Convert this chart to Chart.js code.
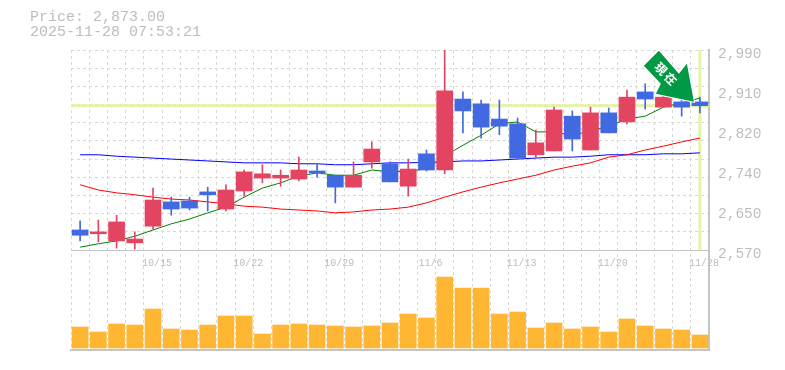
<!DOCTYPE html>
<html>
<head>
<meta charset="utf-8">
<script src="https://cdn.jsdelivr.net/npm/chart.js@4"></script>
<style>
  body { margin: 0; background: #fff; }
  .header { position: absolute; left: 30px; top: 10px; font: 15px/15px "Liberation Mono", monospace; color: #bdbdbd; white-space: pre; }
  #stockChart { position: absolute; left: 0; top: 0; }
</style>
</head>
<body>
<canvas id="stockChart" width="785" height="370"></canvas>
<div class="header">Price: 2,873.00
2025-11-28 07:53:21</div>

<script>
const dates = ["10/8","10/9","10/10","10/14","10/15","10/16","10/17","10/20","10/21","10/22","10/23","10/24","10/27","10/28","10/29","10/30","10/31","11/4","11/5","11/6","11/7","11/10","11/11","11/12","11/13","11/14","11/17","11/18","11/19","11/20","11/21","11/25","11/26","11/27","11/28"];
const tickDates = ["10/15","10/22","10/29","11/6","11/13","11/20","11/28"];

const opens  = [2612,2604,2589,2585,2620,2671,2673,2692,2656,2694,2721,2721,2719,2736,2727,2702,2755,2751,2704,2772,2738,2887,2877,2845,2835,2770,2778,2851,2780,2858,2839,2902,2870,2881,2881];
const highs  = [2631,2633,2643,2608,2700,2681,2681,2702,2707,2738,2749,2738,2765,2751,2727,2755,2797,2755,2761,2780,2990,2902,2885,2885,2847,2822,2870,2862,2870,2868,2906,2919,2906,2889,2891];
const lows   = [2589,2587,2574,2572,2614,2643,2654,2652,2652,2683,2711,2704,2715,2723,2669,2702,2742,2713,2683,2736,2730,2816,2805,2812,2761,2763,2778,2778,2780,2816,2835,2866,2870,2851,2858];
const closes = [2601,2608,2629,2593,2675,2656,2658,2686,2696,2734,2730,2727,2738,2732,2702,2727,2782,2713,2740,2738,2904,2862,2828,2830,2763,2795,2864,2803,2858,2816,2891,2887,2891,2870,2873];

const maShort = [2576,2583,2589,2599,2612,2625,2635,2648,2660,2681,2700,2711,2725,2732,2727,2727,2738,2734,2736,2740,2767,2790,2811,2835,2839,2818,2818,2811,2820,2830,2845,2851,2870,2879,2889];
const maMid   = [2707,2696,2690,2686,2681,2677,2675,2671,2667,2662,2660,2656,2654,2652,2648,2650,2654,2656,2660,2669,2681,2692,2702,2711,2719,2727,2738,2746,2753,2765,2770,2780,2788,2797,2805];
const maLong  = [2770,2770,2767,2765,2763,2761,2759,2757,2755,2753,2753,2753,2751,2751,2749,2749,2751,2753,2753,2754,2755,2757,2757,2759,2761,2763,2765,2765,2767,2770,2770,2770,2772,2772,2774];

const volumes = [21,16,24,23,39,19,18,23,32,32,14,23,24,23,22,21,22,25,34,30,71,60,60,34,36,20,25,19,21,16,29,22,19,18,13];

const priceLabels = [2990,2906,2822,2738,2654,2570];
const gridPrices = [2990,2951.82,2913.64,2875.45,2837.27,2799.09,2760.91,2722.73,2684.55,2646.36,2608.18,2570];
const lastPrice = 2873;

const RED = "#e24461";
const BLUE = "#4169e1";
const GRID = "#d8d8d8";
const AXIS = "#c4c4c4";
const HIGHLIGHT = "#e4f4a4";
const isUp = i => closes[i] >= opens[i];
const candleColor = ctx => isUp(ctx.dataIndex) ? RED : BLUE;

// current price cross, under everything else
const crossPlugin = {
  id: "cross",
  beforeDatasetsDraw(chart) {
    const { ctx, chartArea, scales } = chart;
    const y = scales.yPrice.getPixelForValue(lastPrice);
    const x = scales.x.getPixelForValue(dates.length - 1);
    ctx.save();
    ctx.strokeStyle = HIGHLIGHT;
    ctx.lineWidth = 3;
    ctx.beginPath();
    ctx.moveTo(chartArea.left, y);
    ctx.lineTo(chartArea.right, y);
    ctx.moveTo(x, chartArea.top);
    ctx.lineTo(x, scales.yPrice.bottom);
    ctx.stroke();
    ctx.restore();
  }
};

// green "now" arrow pointing at the last candle
const arrowPlugin = {
  id: "arrow",
  afterDatasetsDraw(chart) {
    const { ctx, scales } = chart;
    const tipX = scales.x.getPixelForValue(dates.length - 1) - 6;
    const tipY = scales.yPrice.getPixelForValue(lastPrice) - 4;
    const shape = [[0,0],[-38,-8],[-33,-18],[-50,-36],[-35,-51],[-15,-28],[-7,-38]];
    ctx.save();
    ctx.translate(tipX, tipY);
    ctx.beginPath();
    shape.forEach((p, i) => i ? ctx.lineTo(p[0], p[1]) : ctx.moveTo(p[0], p[1]));
    ctx.closePath();
    ctx.strokeStyle = "#fff";
    ctx.lineWidth = 2;
    ctx.stroke();
    ctx.fillStyle = "#009944";
    ctx.fill();
    ctx.translate(-28, -28);
    ctx.rotate(Math.PI / 4);
    ctx.fillStyle = "#fff";
    ctx.font = "bold 12px 'Noto Sans CJK JP'";
    ctx.textAlign = "center";
    ctx.textBaseline = "middle";
    ctx.fillText("現", -7, 0);
    ctx.fillText("在", 7, 0);
    ctx.restore();
  }
};

const fixWidth = scale => { scale.width = 76; };

new Chart(document.getElementById("stockChart"), {
  type: "bar",
  data: {
    labels: dates,
    datasets: [
      { type: "bar", data: dates.map((d, i) => [opens[i], closes[i]]), yAxisID: "yPrice", grouped: false, barThickness: 16, backgroundColor: candleColor, order: 1 },
      { type: "bar", data: dates.map((d, i) => [lows[i], highs[i]]), yAxisID: "yPrice", grouped: false, barThickness: 1, backgroundColor: candleColor, order: 2 },
      { type: "line", data: maShort, yAxisID: "yPrice", borderColor: "#008000", borderWidth: 1, pointRadius: 0, tension: 0, order: 3 },
      { type: "line", data: maMid, yAxisID: "yPrice", borderColor: "#ff0000", borderWidth: 1, pointRadius: 0, tension: 0, order: 4 },
      { type: "line", data: maLong, yAxisID: "yPrice", borderColor: "#0000ff", borderWidth: 1, pointRadius: 0, tension: 0, order: 5 },
      { type: "bar", data: volumes, yAxisID: "yVol", grouped: false, barThickness: 16, backgroundColor: "#ffb733", order: 6 }
    ]
  },
  options: {
    responsive: false,
    animation: false,
    layout: { padding: { left: 71, top: 50, right: 0, bottom: 20 } },
    plugins: { legend: { display: false }, title: { display: false }, tooltip: { enabled: false } },
    scales: {
      x: {
        position: { yPrice: 2570 },
        offset: true,
        grid: { offset: true, color: GRID, drawTicks: false },
        border: { dash: [3, 3], color: AXIS, width: 1 },
        ticks: {
          autoSkip: false,
          maxRotation: 0,
          padding: 7,
          labelOffset: 4,
          color: "#bdbdbd",
          font: { family: "Liberation Mono", size: 10 },
          callback(value) {
            const label = this.getLabelForValue(value);
            return tickDates.includes(label) ? label : "";
          }
        }
      },
      xBottom: {
        type: "category",
        position: "bottom",
        offset: true,
        grid: { display: false },
        border: { color: AXIS, width: 2 },
        ticks: { display: false },
        afterFit: scale => { scale.height = 0; }
      },
      yPrice: {
        position: "right",
        stack: "panels",
        stackWeight: 2,
        min: 2570,
        max: 2990,
        afterBuildTicks: scale => {
          scale.ticks = [...new Set([...gridPrices, ...priceLabels])].map(v => ({ value: v }));
        },
        afterFit: fixWidth,
        grid: {
          drawTicks: false,
          color: ctx => gridPrices.includes(ctx.tick.value) ? GRID : "rgba(0,0,0,0)"
        },
        border: { dash: [3, 3], color: AXIS, width: 2 },
        ticks: {
          autoSkip: false,
          padding: 9,
          labelOffset: 4,
          color: "#bdbdbd",
          font: { family: "Liberation Mono", size: 14.5 },
          callback(value) {
            if (!priceLabels.includes(value)) return "";
            return (Math.round(value / 10) * 10).toLocaleString("en-US");
          }
        }
      },
      yVol: {
        position: "right",
        stack: "panels",
        stackWeight: 1,
        min: -2,
        max: 98,
        afterFit: fixWidth,
        grid: { display: false },
        border: { color: AXIS, width: 2 },
        ticks: { display: false }
      }
    }
  },
  plugins: [crossPlugin, arrowPlugin]
});
</script>
</body>
</html>
